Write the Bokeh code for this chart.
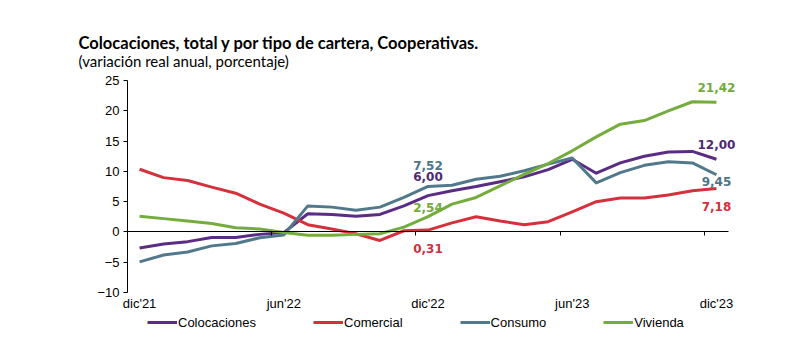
from bokeh.plotting import figure
from bokeh.models import (LinearAxis, FixedTicker, Legend, LegendItem,
                          ColumnDataSource, Title, Range1d, LabelSet)
from bokeh.embed import file_html
from bokeh.resources import INLINE
from bokeh.core.properties import value

# ---------------- data ----------------
months = list(range(25))  # dic'21 ... dic'23
tick_labels = {0: "dic'21", 6: "jun'22", 12: "dic'22", 18: "jun'23", 24: "dic'23"}
y_ticks = [-10, -5, 0, 5, 10, 15, 20, 25]
boundary_ticks = [5.5, 11.5, 17.5, 23.5]

colocaciones = [-2.65, -2.0, -1.6, -0.9, -0.9, -0.4, -0.1, 3.0, 2.9, 2.6, 2.9, 4.3, 6.00,
                6.8, 7.5, 8.3, 9.1, 10.3, 12.0, 9.7, 11.4, 12.5, 13.2, 13.3, 12.00]
comercial = [10.35, 8.97, 8.5, 7.4, 6.4, 4.6, 3.1, 1.2, 0.5, -0.3, -1.4, 0.2, 0.31,
             1.5, 2.5, 1.8, 1.2, 1.7, 3.3, 5.0, 5.6, 5.6, 6.1, 6.8, 7.18]
consumo = [-4.95, -3.8, -3.3, -2.3, -1.9, -0.95, -0.5, 4.3, 4.1, 3.6, 4.1, 5.7, 7.52,
           7.7, 8.7, 9.2, 10.1, 11.2, 12.2, 8.1, 9.8, 11.0, 11.6, 11.4, 9.45]
vivienda = [2.6, 2.2, 1.8, 1.4, 0.7, 0.5, -0.1, -0.55, -0.55, -0.4, -0.3, 0.8, 2.54,
            4.6, 5.7, 7.6, 9.5, 11.3, 13.4, 15.7, 17.8, 18.4, 20.0, 21.5, 21.42]

series_names = ["Colocaciones", "Comercial", "Consumo", "Vivienda"]
series_values = [colocaciones, comercial, consumo, vivienda]
colors = ["#5b2c84", "#d5313c", "#52798b", "#74ac3e"]
label_colors = ["#4d2a70", "#d0313c", "#4e7486", "#72aa3c"]

# labelled points: index of month, pixel offset (style)
label_idx = [12, 24]
label_yoff = {
    "Colocaciones": [19, 15],
    "Comercial": [-18, -18],
    "Consumo": [21, -7],
    "Vivienda": [9, 15],
}

Y_MIN, Y_MAX = -10, 25
X_MIN, X_MAX = -0.5, 24.5

# ---------------- figure ----------------
# frame extends beyond the axes so legend, tick labels and end labels are not clipped
p = figure(width=780, height=355, output_backend="svg", toolbar_location=None,
           x_range=Range1d(X_MIN - 1.5, X_MAX + 1.0),
           y_range=Range1d(Y_MIN - 8.75, Y_MAX + 1.0),
           min_border_left=91, min_border_right=28, min_border_top=74,
           min_border_bottom=10, x_axis_type=None, y_axis_type=None,
           background_fill_color="white", border_fill_color="white")
p.outline_line_color = None
p.xgrid.visible = False
p.ygrid.visible = False

font_axis = "Liberation Sans"

# y axis
yax = LinearAxis(ticker=FixedTicker(ticks=y_ticks), bounds=(Y_MIN, Y_MAX),
                 fixed_location=X_MIN)
yax.major_tick_out = 4
yax.major_tick_in = 0
yax.minor_tick_line_color = None
yax.axis_line_color = "black"
yax.major_tick_line_color = "black"
yax.major_label_standoff = 4
yax.major_label_text_font = font_axis
yax.major_label_text_font_size = "13px"
yax.major_label_text_color = "black"
p.add_layout(yax, "left")

# zero line axis with boundary ticks
zax = LinearAxis(ticker=FixedTicker(ticks=boundary_ticks), fixed_location=0,
                 bounds=(X_MIN, X_MAX))
zax.axis_line_color = "black"
zax.major_tick_line_color = "black"
zax.major_tick_out = 4
zax.major_tick_in = 0
zax.minor_tick_line_color = None
zax.major_label_text_alpha = 0
zax.major_label_text_font_size = "1px"
p.add_layout(zax, "below")

# category labels at the bottom of the plot (y = -10)
xax = LinearAxis(ticker=FixedTicker(ticks=list(tick_labels.keys())), fixed_location=Y_MIN)
xax.major_label_overrides = tick_labels
xax.axis_line_color = None
xax.major_tick_line_color = None
xax.minor_tick_line_color = None
xax.major_tick_out = 0
xax.major_tick_in = 0
xax.major_label_standoff = 3
xax.major_label_text_font = font_axis
xax.major_label_text_font_size = "13px"
xax.major_label_text_color = "black"
p.add_layout(xax, "below")

# lines
items = []
for name, vals, col in zip(series_names, series_values, colors):
    r = p.line(months, vals, line_color=col, line_width=3, line_join="round")
    items.append(LegendItem(label=name, renderers=[r]))

# data labels
for name, vals, lc in zip(series_names, series_values, label_colors):
    xs = label_idx
    ys = [vals[i] for i in label_idx]
    txt = [f"{v:.2f}".replace(".", ",") for v in ys]
    src = ColumnDataSource(dict(x=xs, y=ys, t=txt, yo=label_yoff[name]))
    p.add_layout(LabelSet(x="x", y="y", text="t", y_offset="yo", source=src,
                          text_align="center", text_baseline="middle",
                          text_font=value("DejaVu Sans"), text_font_style="bold",
                          text_font_size="12px", text_color=lc))

# legend
legend = Legend(items=items, orientation="horizontal", location=(56, 13),
                glyph_width=30, glyph_height=20, label_height=20,
                label_standoff=1, spacing=57,
                padding=0, margin=0, border_line_color=None,
                background_fill_alpha=0,
                label_text_font=font_axis, label_text_font_size="13px",
                label_text_color="black")
p.add_layout(legend, "center")

# titles
sub = Title(text="(variación real anual, porcentaje)", align="left", offset=-13,
            text_font="Lato", text_font_size="15px", text_font_style="normal",
            text_color="black", standoff=10)
p.add_layout(sub, "above")
main = Title(text="Colocaciones, total y por tipo de cartera, Cooperativas.",
             align="left", offset=-13, text_font="Lato", text_font_size="16.5px",
             text_font_style="bold", text_color="black", standoff=-16)
p.add_layout(main, "above")

open("out.html", "w").write(file_html(p, INLINE))
